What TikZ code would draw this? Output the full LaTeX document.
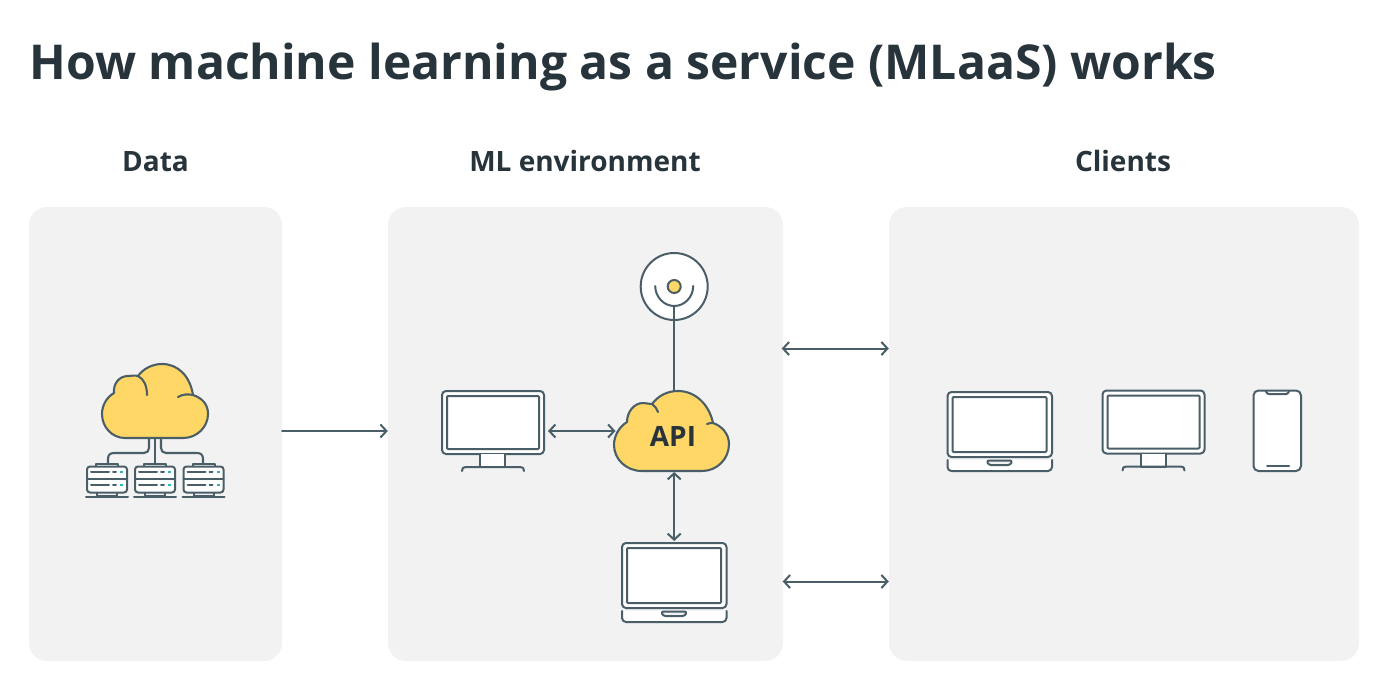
\documentclass[tikz,border=0pt]{standalone}
\usepackage{fontspec}
\setmainfont{Open Sans}
\usetikzlibrary{arrows.meta}
\definecolor{ink}{HTML}{27343B}
\definecolor{stroke}{HTML}{4A5E68}
\definecolor{panelbg}{HTML}{F2F2F3}
\definecolor{sun}{HTML}{FFD766}
\definecolor{teal}{HTML}{2FB5B0}
\tikzset{
  x=1pt,y=-1pt,
  panel/.style={fill=panelbg,rounded corners=18pt,minimum height=454pt,inner sep=0pt},
  heading/.style={font=\fontsize{28}{28}\selectfont\bfseries,text=ink,anchor=base},
  iconbox/.style={inner sep=0pt,outer sep=0pt},
  line/.style={draw=stroke,line width=2.1pt,line cap=round,line join=round},
  thin line/.style={draw=stroke,line width=2pt,line cap=round,line join=round},
  one way/.style={thin line,-{Straight Barb[length=6pt,width=13pt,line width=2pt]}},
  two way/.style={thin line,{Straight Barb[length=6pt,width=13pt,line width=2pt]}-{Straight Barb[length=6pt,width=13pt,line width=2pt]}},
  monitoricon/.pic={
    \draw[thin line,fill=white,rounded corners=4pt] (0,0) rectangle (102,63);
    \draw[thin line,rounded corners=1pt] (5,5) rectangle (97,58);
    \draw[thin line,fill=white] (38,63) -- (38,76) -- (63,76) -- (63,63);
    \draw[thin line] (20,80) .. controls (20,77) and (21,76) .. (24,76) -- (78,76) .. controls (81,76) and (82,77) .. (82,80);
  },
  laptopicon/.pic={
    \draw[thin line,fill=white,rounded corners=4pt] (0,65) -- (0,0) -- (104.5,0) -- (104.5,65) -- cycle;
    \draw[thin line,rounded corners=1pt] (5,5) rectangle (99,60);
    \draw[thin line,fill=white,rounded corners=4pt] (0,68) -- (0,79) -- (104.5,79) -- (104.5,68);
    \draw[thin line,fill=panelbg,rounded corners=2.5pt] (39,68.5) -- (41,73) -- (63,73) -- (65,68.5) -- cycle;
  },
  servericon/.pic={
    \draw[thin line,fill=white] (9,3) rectangle (31,0);
    \draw[thin line] (10,29) -- (10,32) -- (30,32) -- (30,29);
    \draw[thin line,fill=white,rounded corners=3pt] (0,3) rectangle (40,29);
    \draw[thin line] (0,15.5) -- (40,15.5);
    \draw[thin line] (-1,33) -- (41,33);
    \foreach \ry in {8.5,21.5}{
      \draw[thin line] (4,\ry) -- (22,\ry);
      \draw[thin line] (26,\ry) -- (29,\ry);
      \draw[draw=teal,line width=2pt] (33,\ry) -- (36,\ry);
    }
  }
}
\begin{document}
\begin{tikzpicture}
\useasboundingbox (0,0) rectangle (1389,685);
\fill[white] (0,0) rectangle (1389,685);

\node[anchor=base west,inner sep=0pt,font=\fontsize{48.05}{48}\selectfont\bfseries,text=ink] (title) at (29.5,79) {How machine learning as a service (MLaaS) works};
\node[heading] (hdata) at (155.5,171.7) {Data};
\node[heading] (hml) at (585,171.7) {ML environment};
\node[heading] (hclients) at (1123,171.7) {Clients};

\node[panel,minimum width=253pt] (data) at (155.5,434) {};
\node[panel,minimum width=395pt] (ml) at (585.5,434) {};
\node[panel,minimum width=470pt] (clients) at (1124,434) {};

\coordinate (rowmid) at (0,431);
\coordinate (rowup) at (0,348.5);
\coordinate (rowlow) at (0,581.5);

% data cloud and servers
\coordinate (stemC) at (155,438);
\draw[line] (stemC) -- (155,467);
\draw[line] (149,438) -- (149,448) .. controls (149,451) and (147,453) .. (144,453) -- (114,453) .. controls (110,453) and (108,455) .. (108,459) -- (108,464);
\draw[line] (161,438) -- (161,448) .. controls (161,451) and (163,453) .. (166,453) -- (197,453) .. controls (201,453) and (203,455) .. (203,459) -- (203,464);
\pic at (87,463.5) {servericon};
\pic at (135,463.5) {servericon};
\pic at (183.5,463.5) {servericon};
\draw[line,fill=sun] (125,438) -- (183,438) .. controls (197,438) and (208,427) .. (208,414) .. controls (208,404) and (202,398) .. (193,395) .. controls (190,376) and (178,364) .. (162,364) .. controls (152,364) and (143,369) .. (138,376) .. controls (135,375) and (131,376) .. (128,376) .. controls (119,376) and (113,384) .. (114,393) .. controls (107,397) and (102,405) .. (102,414) .. controls (102,427) and (112,438) .. (125,438) -- cycle;
\draw[line] (138,376) .. controls (144,379) and (147,386) .. (147,395);
\draw[line] (178,397) .. controls (183,394) and (188,394) .. (193,395);

% antenna
\node[iconbox,circle,fill=white,draw=stroke,line width=2pt,minimum size=67pt] (ant) at (674.2,286.5) {};
\node[iconbox,circle,fill=sun,draw=stroke,line width=2pt,minimum size=13pt] (antdot) at (674.2,286.5) {};
\coordinate (antbot) at (674.2,306);
\draw[thin line] (655.2,286) .. controls (655.2,297) and (664,306) .. (antbot) .. controls (684.5,306) and (693.2,297) .. (693.2,286);

% API cloud
\node[iconbox,minimum width=115pt,minimum height=80pt] (api) at (671.5,431) {};
\draw[thin line] (antbot) -- (antbot |- api.north);
\draw[line,fill=sun] (642,471) -- (702,471) .. controls (717,471) and (729,459) .. (729,444) .. controls (729,434) and (722,426) .. (713,423) .. controls (709,404) and (695,391) .. (678,391) .. controls (667,391) and (658,396) .. (652,404) .. controls (649,404) and (646,403) .. (643,403) .. controls (634,403) and (627,412) .. (627,422) .. controls (619,427) and (614,436) .. (614,445) .. controls (614,459) and (626,471) .. (642,471) -- cycle;
\draw[line] (652,404) .. controls (655,406) and (657,409) .. (658,412);
\draw[line] (707,424) .. controls (709,423) and (711,423) .. (713,423);
\node[anchor=base,inner sep=0pt,font=\fontsize{28}{28}\selectfont\bfseries,text=ink] (apitext) at (673,446) {API};

% ML monitor, laptop
\node[iconbox,minimum width=102pt,minimum height=80pt] (mon) at (493,431) {};
\pic at (442,391) {monitoricon};
\node[iconbox,minimum width=105pt,minimum height=79pt] (lap) at (674.5,582.5) {};
\pic at (622,543) {laptopicon};

% client devices
\pic at (947.5,392) {laptopicon};
\pic at (1102.5,390.5) {monitoricon};
\draw[thin line,fill=white,rounded corners=5pt] (1253.5,390.5) rectangle (1301,471);
\draw[thin line,rounded corners=1.5pt] (1266,391) -- (1267,394) -- (1288,394) -- (1289,391);
\draw[thin line] (1267,466) -- (1289,466);

% connectors
\draw[one way] (data.east |- rowmid) -- (ml.west |- rowmid);
\draw[two way,shorten <=-1.5pt] (ml.east |- rowup) -- (clients.west |- rowup);
\draw[two way,shorten <=-0.5pt] (ml.east |- rowlow) -- (clients.west |- rowlow);
\draw[two way,shorten <=4pt,shorten >=-1.5pt] (mon.east |- rowmid) -- (api.west |- rowmid);
\draw[two way,shorten >=2pt,shorten <=1pt] (ant |- api.south) -- (ant |- lap.north);
\end{tikzpicture}
\end{document}
